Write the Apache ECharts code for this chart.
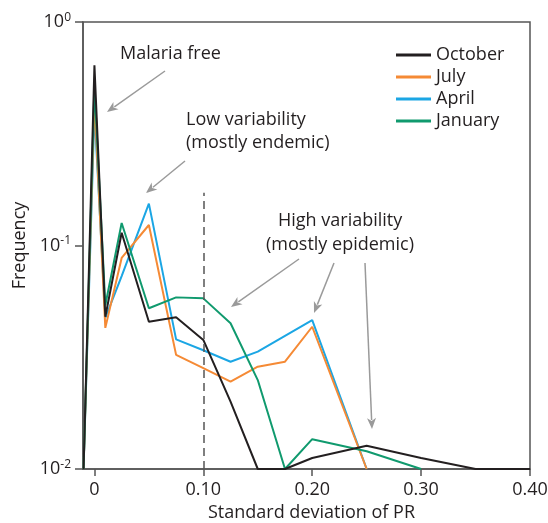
<!DOCTYPE html>
<html>
<head>
<meta charset="utf-8">
<script src="https://cdn.jsdelivr.net/npm/echarts@6/dist/echarts.min.js"></script>
<style>
  html, body { margin: 0; padding: 0; background: #fff; }
  #main { width: 548px; height: 523px; }
</style>
</head>
<body>
<div id="main"></div>
<script>
// standard deviation of PR (x positions of the histogram points)
var sdValues = [-0.01, 0, 0.01, 0.025, 0.05, 0.075, 0.1, 0.125, 0.15, 0.175, 0.2, 0.25, 0.3, 0.35, 0.4];
// frequency per month (null = not drawn)
var october = [0.01, 0.64, 0.048, 0.114, 0.0456, 0.0477, 0.0378, 0.02, 0.01, 0.01, 0.0112, 0.0127, 0.0112, 0.01, 0.01];
var july    = [0.01, 0.45, 0.0428, 0.088, 0.1235, 0.0324, 0.0283, 0.0246, 0.0287, 0.0302, 0.0433, 0.01, null, null, null];
var april   = [0.01, 0.40, 0.0474, 0.073, 0.154, 0.038, 0.034, 0.0302, 0.0335, null, 0.0464, 0.01, null, null, null];
var january = [0.01, 0.52, 0.054, 0.126, 0.0524, 0.0586, 0.058, 0.0449, 0.025, 0.01, 0.0136, 0.012, 0.01, null, null];
var xTicks = [0, 0.1, 0.2, 0.3, 0.4];

var FONT = 'Open Sans';
var txtColor = '#231f20';

function pairs(arr) {
  var out = [];
  for (var i = 0; i < sdValues.length; i++) {
    if (arr[i] != null) out.push([sdValues[i], arr[i]]);
  }
  return out;
}

function line(name, arr, color) {
  return {
    name: name,
    type: 'line',
    data: pairs(arr),
    symbol: 'none',
    lineStyle: { color: color, width: 2 },
    itemStyle: { color: color },
    z: 3
  };
}

// grey annotation arrow, pixel coords
function arrow(x1, y1, x2, y2) {
  var dx = x2 - x1, dy = y2 - y1;
  var len = Math.sqrt(dx * dx + dy * dy);
  var ux = dx / len, uy = dy / len;
  var hl = 11, hw = 4.5;
  var bx = x2 - ux * hl, by = y2 - uy * hl;
  return [
    { type: 'line', shape: { x1: x1, y1: y1, x2: bx + ux * 2, y2: by + uy * 2 },
      style: { stroke: '#9a9a9a', lineWidth: 1.5 }, z: 10 },
    { type: 'polygon', shape: { points: [[x2, y2], [bx - uy * hw, by + ux * hw], [bx + ux * 3, by + uy * 3], [bx + uy * hw, by - ux * hw]] },
      style: { fill: '#9a9a9a' }, z: 10 }
  ];
}

function label(x, y, text) {
  return { type: 'text', x: x, y: y, z: 10,
    style: { text: text, font: '18px "' + FONT + '"', fill: txtColor, textAlign: 'left', textVerticalAlign: 'middle' } };
}

var graphics = [].concat(
  [label(120, 54, 'Malaria free')],
  arrow(165, 71, 107, 112),
  [label(186, 120, 'Low variability'), label(186, 143, '(mostly endemic)')],
  arrow(185, 161, 146, 193),
  [label(278, 221, 'High variability'), label(266, 245, '(mostly epidemic)')],
  arrow(299, 259, 231, 307),
  arrow(334, 263, 314, 313),
  arrow(365, 263, 372, 429)
);

var chart = echarts.init(document.getElementById('main'));
var option = {
  animation: false,
  textStyle: { fontFamily: FONT },
  grid: { left: 83, right: 18, top: 22, bottom: 54, containLabel: false, outerBoundsMode: 'none',
    show: true, borderColor: '#555', borderWidth: 1.5 },
  legend: {
    orient: 'vertical',
    left: 391, top: 41,
    icon: 'rect',
    itemWidth: 35, itemHeight: 3, itemGap: 4,
    textStyle: { fontSize: 18, color: txtColor, fontFamily: FONT },
    data: ['October', 'July', 'April', 'January']
  },
  xAxis: {
    type: 'value',
    min: -0.0105, max: 0.4,
    name: 'Standard deviation of PR',
    nameLocation: 'middle',
    nameGap: 34,
    nameTextStyle: { fontSize: 18, color: txtColor, padding: [0, 0, 0, 10] },
    axisLine: { onZero: false, lineStyle: { color: '#555', width: 1.5 } },
    axisTick: { show: true, length: 7, customValues: xTicks, lineStyle: { color: '#555', width: 1.5 } },
    axisLabel: { customValues: xTicks, fontSize: 18, color: txtColor, margin: 12,
      formatter: function (v) { return v === 0 ? '0' : v.toFixed(2); } },
    splitLine: { show: false }
  },
  yAxis: {
    type: 'log',
    logBase: 10,
    min: 0.01, max: 1,
    name: 'Frequency',
    nameLocation: 'middle',
    nameGap: 52,
    nameTextStyle: { fontSize: 18, color: txtColor },
    axisLine: { onZero: false, lineStyle: { color: '#555', width: 1.5 } },
    axisTick: { show: true, length: 8, lineStyle: { color: '#555', width: 1.5 } },
    minorTick: { show: false },
    axisLabel: {
      fontSize: 18, color: txtColor, margin: 12,
      formatter: function (v) {
        var e = Math.round(Math.log10(v));
        return '10{s|' + e + '}';
      },
      rich: { s: { fontSize: 12, color: txtColor, padding: [0, 0, 9, 0], fontFamily: FONT } }
    },
    splitLine: { show: false }
  },
  series: [
    line('April', april, '#1ba6e4'),
    line('July', july, '#f58a35'),
    line('January', january, '#109a6e'),
    Object.assign(line('October', october, '#231f20'), {
      markLine: {
        silent: true, symbol: 'none', label: { show: false },
        lineStyle: { color: '#555', type: [8, 5], width: 1.5 },
        data: [[{ coord: [0.1, 0.01] }, { coord: [0.1, 0.172] }]]
      }
    })
  ],
  graphic: graphics
};
chart.setOption(option);
</script>
</body>
</html>
